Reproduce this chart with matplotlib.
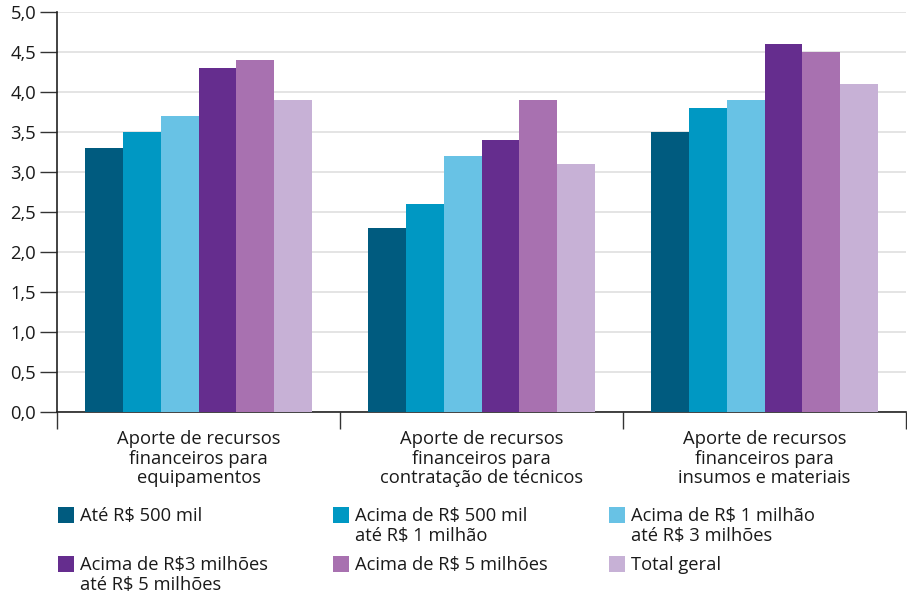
import numpy as np
import matplotlib
matplotlib.use("Agg")
import matplotlib.pyplot as plt
from matplotlib.patches import Rectangle
from matplotlib.ticker import FixedLocator, FuncFormatter

plt.rcParams["font.family"] = ["Open Sans", "DejaVu Sans"]

# Data
CATEGORIES = [
    "Aporte de recursos\nfinanceiros para\nequipamentos",
    "Aporte de recursos\nfinanceiros para\ncontratação de técnicos",
    "Aporte de recursos\nfinanceiros para\ninsumos e materiais",
]
SERIES = [
    "Até R$ 500 mil",
    "Acima de R$ 500 mil\naté R$ 1 milhão",
    "Acima de R$ 1 milhão\naté R$ 3 milhões",
    "Acima de R$3 milhões\naté R$ 5 milhões",
    "Acima de R$ 5 milhões",
    "Total geral",
]
VAL_ATE_500 = [3.3, 2.3, 3.5]
VAL_500_1M = [3.5, 2.6, 3.8]
VAL_1M_3M = [3.7, 3.2, 3.9]
VAL_3M_5M = [4.3, 3.4, 4.6]
VAL_5M = [4.4, 3.9, 4.5]
VAL_TOTAL = [3.9, 3.1, 4.1]
VALUES = [VAL_ATE_500, VAL_500_1M, VAL_1M_3M, VAL_3M_5M, VAL_5M, VAL_TOTAL]
Y_TICKS = [0, 0.5, 1, 1.5, 2, 2.5, 3, 3.5, 4, 4.5, 5]

COLORS = ["#005b7f", "#0098c3", "#68c2e5", "#652d8e", "#a871b0", "#c7b1d6"]
FS = 13.2
TXT = "#1a1a1a"

W, H = 907, 592
fig = plt.figure(figsize=(W / 100, H / 100), dpi=100)
ax = fig.add_axes([57 / W, 1 - 412 / H, (906 - 57) / W, 400 / H])

x = np.arange(len(CATEGORIES))
n = len(SERIES)
bw = 0.8 / n
for i, (vals, col) in enumerate(zip(VALUES, COLORS)):
    ax.bar(x - 0.4 + bw * (i + 0.5), vals, width=bw, color=col, zorder=3, linewidth=0)

ax.set_xlim(-0.5, len(CATEGORIES) - 0.5)
ax.set_ylim(0, 5)

# y axis
ax.set_yticks(Y_TICKS)
ax.yaxis.set_major_formatter(FuncFormatter(lambda v, p: f"{v:.1f}".replace(".", ",")))
ax.tick_params(axis="y", length=12, width=1.0, color="#333333", pad=3,
               labelsize=FS, labelcolor=TXT)
ax.grid(axis="y", color="#dcdcdc", linewidth=1.1, zorder=0)

# x axis: category labels, separators as minor ticks
ax.set_xticks(x)
ax.set_xticklabels(CATEGORIES, fontsize=FS, color=TXT, linespacing=1.12)
ax.tick_params(axis="x", which="major", length=0, pad=13)
ax.xaxis.set_minor_locator(FixedLocator(np.arange(-0.5, len(CATEGORIES), 1.0)))
ax.tick_params(axis="x", which="minor", length=12, width=1.0, color="#333333",
               direction="out")

for s in ["top", "right"]:
    ax.spines[s].set_visible(False)
ax.spines["left"].set_color("#222222")
ax.spines["bottom"].set_color("#222222")
ax.spines["left"].set_linewidth(1.2)
ax.spines["bottom"].set_linewidth(1.2)

# legend, 3 columns x 2 rows
col_x = [58, 333, 609]
row_top = [507, 556]
sq = 16
for i, (lab, col) in enumerate(zip(SERIES, COLORS)):
    cx = col_x[i % 3]
    ty = row_top[i // 3]
    fig.patches.append(Rectangle((cx / W, 1 - (ty + sq) / H), sq / W, sq / H,
                                 transform=fig.transFigure, color=col,
                                 linewidth=0))
    fig.text((cx + 22) / W, 1 - ty / H, lab, fontsize=FS, color=TXT,
             ha="left", va="top", linespacing=1.12)

fig.savefig("out.png", dpi=100)
